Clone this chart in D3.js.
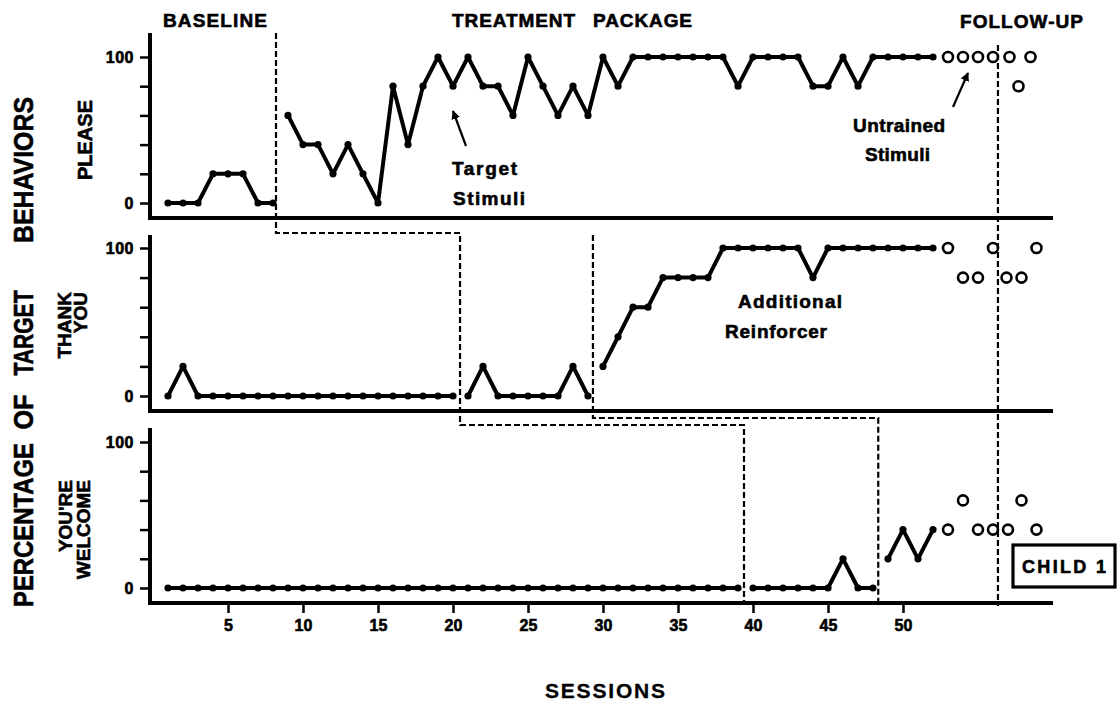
<!DOCTYPE html>
<html>
<head>
<meta charset="utf-8">
<script src="https://cdn.jsdelivr.net/npm/d3@7/dist/d3.min.js"></script>
<style>
  body { margin: 0; background: #fff; }
  svg text { font-family: "Liberation Sans", Arial, sans-serif; font-weight: bold; fill: #000;
             stroke: #000; stroke-width: 0.6px; }
</style>
</head>
<body>
<div id="chart"></div>
<script>
// ---- data (percentage of target behaviors per session) ----
// PLEASE
var pleaseBaseline = [0, 0, 0, 20, 20, 20, 0, 0];                 // sessions 1-8
var pleaseTreatment = [60, 40, 40, 20, 40, 20, 0, 80, 40, 80,      // 9-18
  100, 80, 100, 80, 80, 60, 100, 80, 60, 80,                        // 19-28
  60, 100, 80, 100, 100, 100, 100, 100, 100, 100,                   // 29-38
  80, 100, 100, 100, 100, 80, 80, 100, 80, 100,                     // 39-48
  100, 100, 100, 100];                                              // 49-52
var pleaseUntrained = [100, 100, 100, 100];                         // 53-56
var pleaseFollowX = [57.1, 57.7, 58.5];
var pleaseFollow = [100, 80, 100];

// THANK YOU
var thankBaseline = [0, 20, 0, 0, 0, 0, 0, 0, 0, 0,
  0, 0, 0, 0, 0, 0, 0, 0, 0, 0];                                    // 1-20
var thankTreatment = [0, 20, 0, 0, 0, 0, 0, 20, 0];                  // 21-29
var thankReinforcer = [20, 40, 60, 60, 80, 80, 80, 80, 100, 100,     // 30-39
  100, 100, 100, 100, 80, 100, 100, 100, 100, 100,                  // 40-49
  100, 100, 100];                                                   // 50-52
var thankUntrained = [100, 80, 80, 100];
var thankFollowX = [56.9, 57.9, 58.9];
var thankFollow = [80, 80, 100];

// YOU'RE WELCOME
var welcomeBaseline = [0, 0, 0, 0, 0, 0, 0, 0, 0, 0,
  0, 0, 0, 0, 0, 0, 0, 0, 0, 0,
  0, 0, 0, 0, 0, 0, 0, 0, 0, 0,
  0, 0, 0, 0, 0, 0, 0, 0, 0];                                       // 1-39
var welcomeTreatment = [0, 0, 0, 0, 0, 0, 20, 0, 0];                 // 40-48
var welcomeReinforcer = [20, 40, 20, 40];                           // 49-52
var welcomeUntrained = [40, 60, 40, 40];
var welcomeFollowX = [57, 57.9, 58.9];
var welcomeFollow = [40, 60, 40];

var xTicks = [5, 10, 15, 20, 25, 30, 35, 40, 45, 50];
var yTicks = [0, 20, 40, 60, 80, 100];

// phase change lines (in sessions)
var phaseChange = { please: 8.2, thank: [20.47, 29.33], welcome: [39.4, 48.35], followUp: 56.33 };

// ---- layout ----
var width = 1118, height = 709;
var svg = d3.select("#chart").append("svg")
  .attr("width", width)
  .attr("height", height);

var x = d3.scaleLinear().domain([-0.2, 60]).range([150, 1053]);

var panels = [
  { label: ["PLEASE"], y0: 203, y100: 57, axisY: 218, top: 33, labelEnd: 100, labelX: [92],
    segments: [[1, pleaseBaseline], [9, pleaseTreatment]],
    open: [[53, pleaseUntrained]], followX: pleaseFollowX, follow: pleaseFollow },
  { label: ["THANK", "YOU"], y0: 396, y100: 248, axisY: 411, top: 235, labelEnd: 292, labelX: [71, 87],
    segments: [[1, thankBaseline], [21, thankTreatment], [30, thankReinforcer]],
    open: [[53, thankUntrained]], followX: thankFollowX, follow: thankFollow },
  { label: ["YOU'RE", "WELCOME"], y0: 588, y100: 442, axisY: 603, top: 428, labelEnd: 480, labelX: [72, 90],
    segments: [[1, welcomeBaseline], [40, welcomeTreatment], [49, welcomeReinforcer]],
    open: [[53, welcomeUntrained]], followX: welcomeFollowX, follow: welcomeFollow }
];

panels.forEach(function(p) {
  var y = d3.scaleLinear().domain([0, 100]).range([p.y0, p.y100]);

  // y axis ticks
  svg.append("g")
    .attr("transform", "translate(150,0)")
    .call(d3.axisLeft(y).tickValues(yTicks).tickSize(10).tickPadding(6)
      .tickFormat(function(d) { return (d == 0 || d == 100) ? d : ""; }))
    .call(function(g) { g.select(".domain").remove(); })
    .call(function(g) {
      g.selectAll("line").attr("stroke", "#000").attr("stroke-width", 2.5);
      g.selectAll("text").style("font-size", "16px").style("letter-spacing", "0.5px");
    });

  // axis lines
  svg.append("line")
    .attr("x1", 150).attr("x2", 150).attr("y1", p.top).attr("y2", p.axisY + 2)
    .attr("stroke", "#000").attr("stroke-width", 4);
  svg.append("line")
    .attr("x1", 148).attr("x2", 1053).attr("y1", p.axisY).attr("y2", p.axisY)
    .attr("stroke", "#000").attr("stroke-width", 4);

  // behaviour label
  p.label.forEach(function(t, i) {
    svg.append("text")
      .attr("transform", "translate(" + p.labelX[i] + "," + p.labelEnd + ") rotate(-90)")
      .attr("text-anchor", "end")
      .style("font-size", p.label.length > 1 ? "19px" : "20px")
      .text(t);
  });

  // data lines with dots
  var line = d3.line()
    .x(function(d) { return x(d.s); })
    .y(function(d) { return y(d.v); });

  p.segments.forEach(function(seg) {
    var pts = seg[1].map(function(v, i) { return { s: seg[0] + i, v: v }; });
    svg.append("path")
      .datum(pts)
      .attr("d", line)
      .attr("fill", "none")
      .attr("stroke", "#000")
      .attr("stroke-width", 4)
      .attr("stroke-linejoin", "round");
    svg.selectAll(null)
      .data(pts)
      .enter().append("circle")
      .attr("cx", function(d) { return x(d.s); })
      .attr("cy", function(d) { return y(d.v); })
      .attr("r", 3.6)
      .attr("fill", "#000");
  });

  // open circles: untrained stimuli and follow-up
  var openPts = [];
  p.open.forEach(function(o) {
    o[1].forEach(function(v, i) { openPts.push({ s: o[0] + i, v: v }); });
  });
  p.followX.forEach(function(s, i) { openPts.push({ s: s, v: p.follow[i] }); });
  svg.selectAll(null)
    .data(openPts)
    .enter().append("circle")
    .attr("cx", function(d) { return x(d.s); })
    .attr("cy", function(d) { return y(d.v); })
    .attr("r", 5)
    .attr("fill", "#fff")
    .attr("stroke", "#000")
    .attr("stroke-width", 2.6);
});

// x axis (bottom panel only has ticks)
svg.append("g")
  .attr("transform", "translate(0," + panels[2].axisY + ")")
  .call(d3.axisBottom(x).tickValues(xTicks).tickSize(10).tickPadding(7))
  .call(function(g) { g.select(".domain").remove(); })
  .call(function(g) {
    g.selectAll("line").attr("stroke", "#000").attr("stroke-width", 2.5);
    g.selectAll("text").style("font-size", "16px");
  });

// ---- phase change lines (dashed) ----
function dashed(points) {
  svg.append("path")
    .attr("d", d3.line()(points))
    .attr("fill", "none")
    .attr("stroke", "#000")
    .attr("stroke-width", 2.2)
    .attr("stroke-dasharray", "6,3");
}
dashed([[x(phaseChange.please), 33], [x(phaseChange.please), 233], [x(phaseChange.thank[0]), 233],
  [x(phaseChange.thank[0]), 425], [x(phaseChange.welcome[0]), 425], [x(phaseChange.welcome[0]), 603]]);
dashed([[x(phaseChange.thank[1]), 235], [x(phaseChange.thank[1]), 418], [x(phaseChange.welcome[1]), 418],
  [x(phaseChange.welcome[1]), 603]]);
dashed([[x(phaseChange.followUp), 45], [x(phaseChange.followUp), 606]]);

// ---- phase titles ----
function label(t, xx, yy, size, len) {
  var el = svg.append("text").attr("x", xx).attr("y", yy).style("font-size", size + "px").text(t);
  if (len) el.attr("textLength", len).attr("lengthAdjust", "spacing");
  return el;
}
label("BASELINE", 163, 27, 19, 104);
label("TREATMENT", 452, 27, 19, 123);
label("PACKAGE", 593, 27, 19, 99);
label("FOLLOW-UP", 960, 28, 19, 123);

// annotations
label("Target", 452, 175, 19, 65);
label("Stimuli", 453, 205, 19, 72);
label("Untrained", 853, 132, 19, 92);
label("Stimuli", 865, 161, 19, 65);
label("Additional", 738, 308, 19, 104);
label("Reinforcer", 725, 338, 19, 102);

// arrows
svg.append("defs").append("marker")
  .attr("id", "head")
  .attr("viewBox", "0 0 10 10")
  .attr("refX", 9).attr("refY", 5)
  .attr("markerWidth", 4).attr("markerHeight", 4)
  .attr("orient", "auto")
  .append("path").attr("d", "M0,0 L10,5 L0,10 z").attr("fill", "#000");
[[466, 146, 453, 111], [953, 107, 968, 73]].forEach(function(a) {
  svg.append("line")
    .attr("x1", a[0]).attr("y1", a[1]).attr("x2", a[2]).attr("y2", a[3])
    .attr("stroke", "#000").attr("stroke-width", 2.2)
    .attr("marker-end", "url(#head)");
});

// CHILD 1 box
svg.append("rect")
  .attr("x", 1013).attr("y", 545).attr("width", 102).attr("height", 42)
  .attr("fill", "#fff").attr("stroke", "#000").attr("stroke-width", 3.2);
label("CHILD 1", 1022, 573, 18, 84);

// y axis title, one rotated word at a time
[["BEHAVIORS", 170, 146], ["TARGET", 333, 85], ["OF", 412, 35], ["PERCENTAGE", 525, 164]].forEach(function(w) {
  svg.append("text")
    .attr("transform", "translate(33," + w[1] + ") rotate(-90)")
    .attr("text-anchor", "middle")
    .attr("textLength", w[2])
    .attr("lengthAdjust", "spacingAndGlyphs")
    .style("font-size", "27px")
    .text(w[0]);
});

// x axis title
svg.append("text")
  .attr("x", 605).attr("y", 698)
  .attr("text-anchor", "middle")
  .attr("textLength", 120)
  .attr("lengthAdjust", "spacing")
  .style("font-size", "21px")
  .style("stroke-width", "0.3px")
  .text("SESSIONS");
</script>
</body>
</html>
